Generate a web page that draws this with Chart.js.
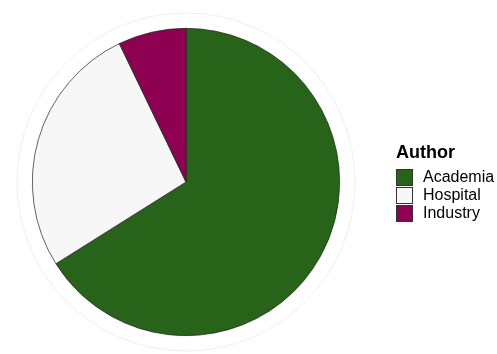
<!DOCTYPE html>
<html>
<head>
<meta charset="utf-8">
<script src="https://cdn.jsdelivr.net/npm/chart.js@4"></script>
<style>
  html, body { margin: 0; padding: 0; background: #ffffff; }
  #wrap { position: relative; width: 497px; height: 354px; }
  #legend { position: absolute; left: 396px; top: 141px; font-family: "Liberation Sans", Arial, sans-serif; color: #000; }
  #legend .title { font-size: 18px; font-weight: bold; line-height: 22px; margin-bottom: 5px; }
  #legend .item { display: flex; align-items: center; height: 18px; font-size: 16px; }
  #legend .box { width: 17px; height: 17px; border: 0.5px solid #333; margin-right: 10px; box-sizing: border-box; }
</style>
</head>
<body>
<div id="wrap">
  <canvas id="pieChart" width="497" height="354"></canvas>
  <div id="legend"></div>
</div>
<script>
const categorias = ['Academia', 'Hospital', 'Industry'];
const contagens = [37, 15, 4];
const cores = ['#276419', '#F7F7F7', '#8E0152'];
const tituloLegenda = 'Author';

// anel cinza claro de fundo (grade polar)
const anelFundo = {
    id: 'anelFundo',
    beforeDatasetsDraw(chart) {
        const arc = chart.getDatasetMeta(0).data[0];
        if (!arc) return;
        const ctx = chart.ctx;
        ctx.save();
        ctx.strokeStyle = '#efefef';
        ctx.lineWidth = 1;
        ctx.beginPath();
        ctx.arc(arc.x, arc.y, arc.outerRadius * 1.1, 0, Math.PI * 2);
        ctx.stroke();
        ctx.restore();
    }
};

document.addEventListener('DOMContentLoaded', function() {
    const ctx = document.getElementById('pieChart');
    new Chart(ctx.getContext('2d'), {
        type: 'pie',
        data: {
            labels: categorias,
            datasets: [{
                data: contagens,
                backgroundColor: cores,
                borderColor: '#222222',
                borderWidth: 0.7
            }]
        },
        options: {
            responsive: false,
            animation: false,
            layout: { padding: { left: 32, right: 157, top: 28, bottom: 18 } },
            plugins: {
                legend: { display: false },
                tooltip: { enabled: false }
            }
        },
        plugins: [anelFundo]
    });

    const legenda = document.getElementById('legend');
    let html = '<div class="title">' + tituloLegenda + '</div>';
    categorias.forEach(function(cat, i) {
        html += '<div class="item"><span class="box" style="background:' + cores[i] + '"></span>' + cat + '</div>';
    });
    legenda.innerHTML = html;
});
</script>
</body>
</html>
